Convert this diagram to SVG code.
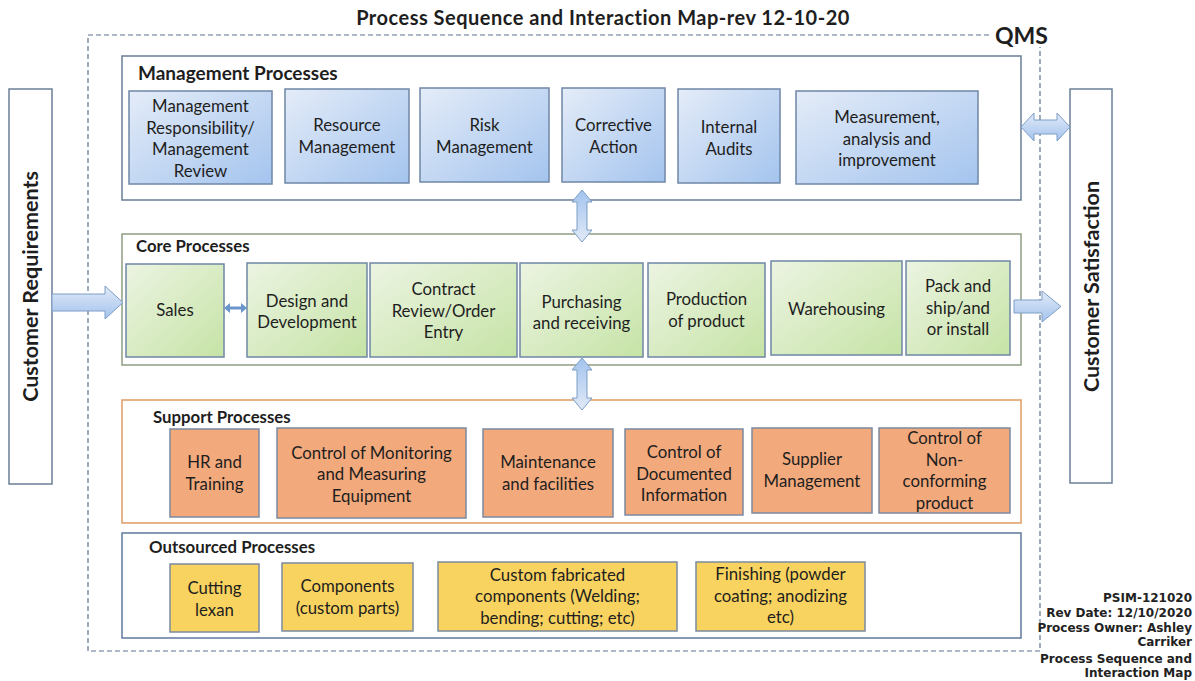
<svg xmlns="http://www.w3.org/2000/svg" width="1195" height="681" viewBox="0 0 1195 681">
<defs>
<linearGradient id="gBlue" x1="0" y1="0" x2="1" y2="1">
<stop offset="0" stop-color="#e4ecf8"/><stop offset="1" stop-color="#a4c4ee"/>
</linearGradient>
<linearGradient id="gGreen" x1="0" y1="0" x2="1" y2="1">
<stop offset="0" stop-color="#ecf4e2"/><stop offset="1" stop-color="#c6e3a6"/>
</linearGradient>
<linearGradient id="gArrowV" x1="0" y1="0" x2="0" y2="1">
<stop offset="0" stop-color="#a3c3ee"/><stop offset="1" stop-color="#e1eaf7"/>
</linearGradient>
<linearGradient id="gArrowH" x1="0" y1="0" x2="0" y2="1">
<stop offset="0" stop-color="#e1eaf7"/><stop offset="1" stop-color="#a3c3ee"/>
</linearGradient>
</defs>
<style>
.t{font-family:Lato,"Liberation Sans",sans-serif;fill:#1e1e1e;}
.lbl{font-size:16.8px;text-anchor:middle;}
.sec{font-size:16.8px;font-weight:bold;}
.sec-big{font-size:19px;font-weight:bold;}
.side{font-size:21.5px;font-weight:bold;text-anchor:middle;}
.title{font-size:20px;font-weight:bold;text-anchor:middle;letter-spacing:0.5px;}
.qms{font-size:23px;font-weight:bold;}
.note{font-family:"DejaVu Sans",Verdana,sans-serif;font-size:12px;font-weight:bold;fill:#222;text-anchor:end;}
.mg{fill:url(#gBlue);stroke:#6f87a6;stroke-width:1.5;}
.cr{fill:url(#gGreen);stroke:#6f87a6;stroke-width:1.5;}
.sp{fill:#f2a97c;stroke:#7b8aa0;stroke-width:1.5;}
.os{fill:#f9d35f;stroke:#7b8aa0;stroke-width:1.5;}
.side-box{fill:#fff;stroke:#6c7f99;stroke-width:1.5;}
.arr{stroke:#7c9dc6;stroke-width:1;}
</style>
<rect width="1195" height="681" fill="#fff"/>
<text class="t title" x="603" y="25">Process Sequence and Interaction Map-rev 12-10-20</text>
<g id="qms">
<rect x="88" y="35" width="952" height="616" fill="none" stroke="#5f7590" stroke-width="1.2" stroke-dasharray="5,3"/>
<rect x="992" y="20" width="62" height="27" fill="#fff"/>
<text class="t qms" x="995" y="44">QMS</text>
</g>
<g id="customer-requirements">
<rect class="side-box" x="9" y="89" width="43" height="395"/>
<text class="t side" transform="translate(38,286.5) rotate(-90)">Customer Requirements</text>
</g>
<g id="customer-satisfaction">
<rect class="side-box" x="1070" y="89" width="42" height="394"/>
<text class="t side" transform="translate(1099,286.5) rotate(-90)">Customer Satisfaction</text>
</g>
<g id="management-processes">
<rect x="122" y="56" width="899" height="144" fill="#fff" stroke="#6a7d96" stroke-width="1.5"/>
<text class="t sec-big" x="138" y="80">Management Processes</text>
</g>
<g id="mgmt-responsibility"><rect class="mg" x="129" y="91" width="143" height="93"/>
<text class="t lbl" x="200.5" y="112">Management</text><text class="t lbl" x="200.5" y="133.5">Responsibility/</text><text class="t lbl" x="200.5" y="155">Management</text><text class="t lbl" x="200.5" y="176.5">Review</text></g>
<g id="resource-management"><rect class="mg" x="285" y="89" width="124" height="94"/>
<text class="t lbl" x="347" y="131">Resource</text><text class="t lbl" x="347" y="152.5">Management</text></g>
<g id="risk-management"><rect class="mg" x="420" y="88" width="129" height="94"/>
<text class="t lbl" x="484.5" y="131">Risk</text><text class="t lbl" x="484.5" y="152.5">Management</text></g>
<g id="corrective-action"><rect class="mg" x="562" y="88" width="103" height="94"/>
<text class="t lbl" x="613.5" y="131">Corrective</text><text class="t lbl" x="613.5" y="152.5">Action</text></g>
<g id="internal-audits"><rect class="mg" x="678" y="89" width="102" height="94"/>
<text class="t lbl" x="729" y="133">Internal</text><text class="t lbl" x="729" y="154.5">Audits</text></g>
<g id="measurement"><rect class="mg" x="796" y="91" width="182" height="93"/>
<text class="t lbl" x="887" y="123">Measurement,</text><text class="t lbl" x="887" y="144.5">analysis and</text><text class="t lbl" x="887" y="166">improvement</text></g>
<g id="core-processes">
<rect x="122" y="234" width="899" height="131" fill="#fff" stroke="#8e9e82" stroke-width="1.5"/>
<text class="t sec" x="136" y="252">Core Processes</text>
</g>
<g id="sales"><rect class="cr" x="126" y="264" width="98" height="93"/>
<text class="t lbl" x="175" y="316">Sales</text></g>
<g id="design"><rect class="cr" x="247" y="263" width="120" height="94"/>
<text class="t lbl" x="307" y="307">Design and</text><text class="t lbl" x="307" y="328">Development</text></g>
<g id="contract-review"><rect class="cr" x="370" y="263" width="147" height="94"/>
<text class="t lbl" x="443.5" y="295">Contract</text><text class="t lbl" x="443.5" y="316.5">Review/Order</text><text class="t lbl" x="443.5" y="338">Entry</text></g>
<g id="purchasing"><rect class="cr" x="520" y="263" width="123" height="94"/>
<text class="t lbl" x="581.5" y="308">Purchasing</text><text class="t lbl" x="581.5" y="329">and receiving</text></g>
<g id="production"><rect class="cr" x="648" y="263" width="117" height="94"/>
<text class="t lbl" x="706.5" y="305">Production</text><text class="t lbl" x="706.5" y="326.5">of product</text></g>
<g id="warehousing"><rect class="cr" x="771" y="261" width="131" height="94"/>
<text class="t lbl" x="836.5" y="315">Warehousing</text></g>
<g id="pack-ship"><rect class="cr" x="906" y="261" width="104" height="94"/>
<text class="t lbl" x="958" y="292">Pack and</text><text class="t lbl" x="958" y="313.5">ship/and</text><text class="t lbl" x="958" y="335">or install</text></g>
<g id="support-processes">
<rect x="122" y="400" width="899" height="123" fill="#fff" stroke="#e09a62" stroke-width="1.5"/>
<text class="t sec" x="153" y="423">Support Processes</text>
</g>
<g id="hr-training"><rect class="sp" x="170" y="429" width="89" height="88"/>
<text class="t lbl" x="214.5" y="468">HR and</text><text class="t lbl" x="214.5" y="489.5">Training</text></g>
<g id="monitoring-measuring"><rect class="sp" x="277" y="428" width="189" height="90"/>
<text class="t lbl" x="371.5" y="458.5">Control of Monitoring</text><text class="t lbl" x="371.5" y="480">and Measuring</text><text class="t lbl" x="371.5" y="501.5">Equipment</text></g>
<g id="maintenance"><rect class="sp" x="483" y="429" width="130" height="88"/>
<text class="t lbl" x="548" y="468">Maintenance</text><text class="t lbl" x="548" y="489.5">and facilities</text></g>
<g id="documented-info"><rect class="sp" x="625" y="429" width="118" height="86"/>
<text class="t lbl" x="684" y="458">Control of</text><text class="t lbl" x="684" y="479.5">Documented</text><text class="t lbl" x="684" y="501">Information</text></g>
<g id="supplier-management"><rect class="sp" x="752" y="428" width="120" height="85"/>
<text class="t lbl" x="812" y="465">Supplier</text><text class="t lbl" x="812" y="486.5">Management</text></g>
<g id="nonconforming"><rect class="sp" x="879" y="428" width="131" height="85"/>
<text class="t lbl" x="944.5" y="444">Control of</text><text class="t lbl" x="944.5" y="465.5">Non-</text><text class="t lbl" x="944.5" y="487">conforming</text><text class="t lbl" x="944.5" y="508.5">product</text></g>
<g id="outsourced-processes">
<rect x="122" y="533" width="899" height="105" fill="#fff" stroke="#5d7a9c" stroke-width="1.5"/>
<text class="t sec" x="149" y="553">Outsourced Processes</text>
</g>
<g id="cutting-lexan"><rect class="os" x="170" y="564" width="89" height="68"/>
<text class="t lbl" x="214.5" y="594">Cutting</text><text class="t lbl" x="214.5" y="616">lexan</text></g>
<g id="components"><rect class="os" x="282" y="563" width="131" height="68"/>
<text class="t lbl" x="347.5" y="592">Components</text><text class="t lbl" x="347.5" y="613.5">(custom parts)</text></g>
<g id="custom-fabricated"><rect class="os" x="438" y="562" width="239" height="69"/>
<text class="t lbl" x="557.5" y="581">Custom fabricated</text><text class="t lbl" x="557.5" y="602">components (Welding;</text><text class="t lbl" x="557.5" y="623.5">bending; cutting; etc)</text></g>
<g id="finishing"><rect class="os" x="696" y="562" width="169" height="69"/>
<text class="t lbl" x="780.5" y="580">Finishing (powder</text><text class="t lbl" x="780.5" y="601.5">coating; anodizing</text><text class="t lbl" x="780.5" y="623">etc)</text></g>
<g id="connectors">
<path class="arr" fill="url(#gArrowH)" d="M52,294 L105,294 L105,286 L123,302.5 L105,319 L105,311 L52,311 Z"/>
<path class="arr" fill="url(#gArrowH)" d="M1014,300 L1042,300 L1042,291 L1061,306.5 L1042,322 L1042,313 L1014,313 Z"/>
<path class="arr" fill="url(#gArrowH)" d="M1021,127 L1034,113 L1034,120 L1057,120 L1057,113 L1070,127 L1057,141 L1057,134 L1034,134 L1034,141 Z"/>
<path class="arr" fill="url(#gArrowV)" d="M582,190 L592,202 L587,202 L587,230 L592,230 L582,242 L572,230 L577,230 L577,202 L572,202 Z"/>
<path class="arr" fill="url(#gArrowV)" d="M582,358 L592,370 L587,370 L587,398 L592,398 L582,410 L572,398 L577,398 L577,370 L572,370 Z"/>
<path fill="#6a95cb" d="M224,308 L230,303 L230,306.5 L241,306.5 L241,303 L247,308 L241,313 L241,309.5 L230,309.5 L230,313 Z"/>
</g>
<g id="doc-info">
<text class="note" x="1192" y="602">PSIM-121020</text>
<text class="note" x="1192" y="617">Rev Date: 12/10/2020</text>
<text class="note" x="1192" y="632">Process Owner: Ashley</text>
<text class="note" x="1192" y="646">Carriker</text>
<text class="note" x="1192" y="663">Process Sequence and</text>
<text class="note" x="1192" y="677">Interaction Map</text>
</g>
</svg>
